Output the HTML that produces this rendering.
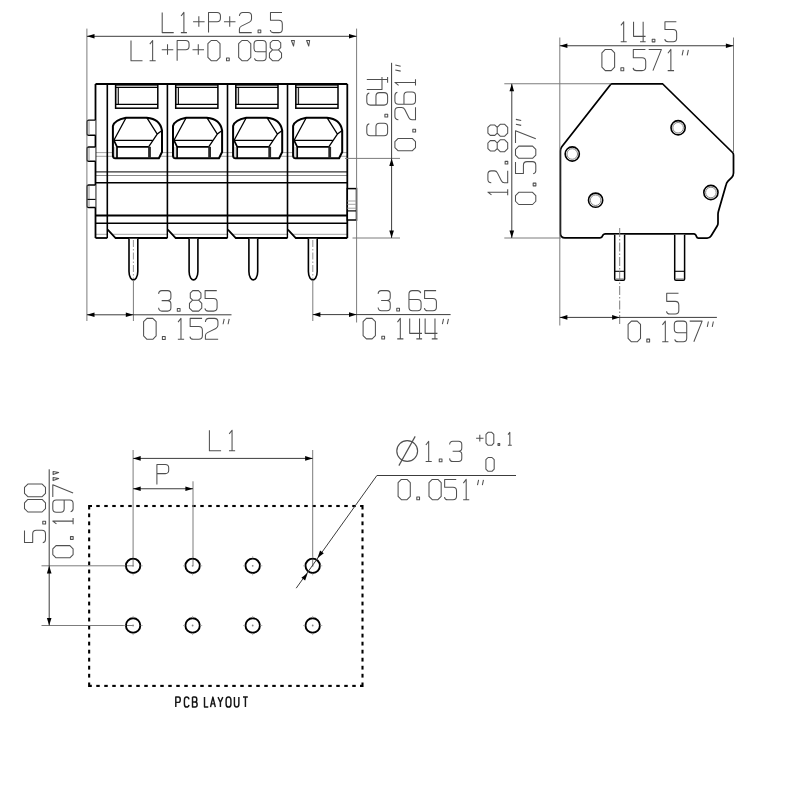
<!DOCTYPE html>
<html><head><meta charset="utf-8"><style>
html,body{margin:0;padding:0;background:#fff;width:800px;height:800px;overflow:hidden}
svg{display:block}
</style></head><body>
<svg width="800" height="800" viewBox="0 0 800 800">
<rect width="800" height="800" fill="#fff"/>
<line x1="95.5" y1="152.6" x2="347.3" y2="152.6" stroke="#9a9a9a" stroke-width="0.9" />
<line x1="95.5" y1="156.3" x2="347.3" y2="156.3" stroke="#9a9a9a" stroke-width="0.9" />
<line x1="95.5" y1="171.9" x2="347.3" y2="171.9" stroke="#333" stroke-width="1.1" />
<line x1="95.5" y1="175.5" x2="347.3" y2="175.5" stroke="#8a8a8a" stroke-width="1.0" />
<line x1="95.5" y1="182.8" x2="347.3" y2="182.8" stroke="#000" stroke-width="1.5" />
<line x1="95.5" y1="215.6" x2="347.3" y2="215.6" stroke="#000" stroke-width="2.0" />
<line x1="95.5" y1="223.2" x2="347.3" y2="223.2" stroke="#000" stroke-width="1.5" />
<line x1="95.5" y1="234.3" x2="347.3" y2="234.3" stroke="#9a9a9a" stroke-width="0.9" />
<rect x="115.6" y="87.4" width="2.8" height="17" fill="#c8c8c8"/>
<rect x="115.6" y="84.9" width="42.2" height="23.3" fill="none" stroke="#000" stroke-width="1.5"/>
<line x1="115.6" y1="87.4" x2="157.8" y2="87.4" stroke="#000" stroke-width="1.1" />
<line x1="115.6" y1="104.4" x2="157.8" y2="104.4" stroke="#000" stroke-width="1.1" />
<line x1="118.39999999999999" y1="87.4" x2="118.39999999999999" y2="104.4" stroke="#000" stroke-width="0.9" />
<path d="M126.05,117.7 L146.80,117.7 Q160.20,118.9 162.00,130.5 L162.00,152 L158.90,158.2 L115.30,158.2 Q112.90,158.2 112.90,155.5 L112.90,126 Q114.10,120.2 126.05,117.7 Z" fill="#fff" stroke="#000" stroke-width="2.0"/>
<rect x="148.10" y="146.8" width="2.8" height="11.4" fill="#2a2a2a"/>
<path d="M126.05,117.7 L113.90,140.3 M146.80,117.7 L157.20,134.1 L162.00,130.5 M157.20,134.1 L148.60,146.8 M113.90,140.3 L152.40,140.3" fill="none" stroke="#000" stroke-width="1.3"/>
<path d="M113.90,140.3 L117.00,146.8 L117.00,158.2 M117.00,146.8 L148.60,146.8" fill="none" stroke="#000" stroke-width="1.7"/>
<line x1="114.80" y1="147" x2="114.80" y2="157.5" stroke="#aaa" stroke-width="0.8" />
<rect x="175.70000000000002" y="87.4" width="2.8" height="17" fill="#c8c8c8"/>
<rect x="175.70000000000002" y="84.9" width="42.2" height="23.3" fill="none" stroke="#000" stroke-width="1.5"/>
<line x1="175.70000000000002" y1="87.4" x2="217.9" y2="87.4" stroke="#000" stroke-width="1.1" />
<line x1="175.70000000000002" y1="104.4" x2="217.9" y2="104.4" stroke="#000" stroke-width="1.1" />
<line x1="178.50000000000003" y1="87.4" x2="178.50000000000003" y2="104.4" stroke="#000" stroke-width="0.9" />
<path d="M186.15,117.7 L206.90,117.7 Q220.30,118.9 222.10,130.5 L222.10,152 L219.00,158.2 L175.40,158.2 Q173.00,158.2 173.00,155.5 L173.00,126 Q174.20,120.2 186.15,117.7 Z" fill="#fff" stroke="#000" stroke-width="2.0"/>
<rect x="208.20" y="146.8" width="2.8" height="11.4" fill="#2a2a2a"/>
<path d="M186.15,117.7 L174.00,140.3 M206.90,117.7 L217.30,134.1 L222.10,130.5 M217.30,134.1 L208.70,146.8 M174.00,140.3 L212.50,140.3" fill="none" stroke="#000" stroke-width="1.3"/>
<path d="M174.00,140.3 L177.10,146.8 L177.10,158.2 M177.10,146.8 L208.70,146.8" fill="none" stroke="#000" stroke-width="1.7"/>
<line x1="174.90" y1="147" x2="174.90" y2="157.5" stroke="#aaa" stroke-width="0.8" />
<rect x="235.8" y="87.4" width="2.8" height="17" fill="#c8c8c8"/>
<rect x="235.8" y="84.9" width="42.2" height="23.3" fill="none" stroke="#000" stroke-width="1.5"/>
<line x1="235.8" y1="87.4" x2="278.0" y2="87.4" stroke="#000" stroke-width="1.1" />
<line x1="235.8" y1="104.4" x2="278.0" y2="104.4" stroke="#000" stroke-width="1.1" />
<line x1="238.60000000000002" y1="87.4" x2="238.60000000000002" y2="104.4" stroke="#000" stroke-width="0.9" />
<path d="M246.25,117.7 L267.00,117.7 Q280.40,118.9 282.20,130.5 L282.20,152 L279.10,158.2 L235.50,158.2 Q233.10,158.2 233.10,155.5 L233.10,126 Q234.30,120.2 246.25,117.7 Z" fill="#fff" stroke="#000" stroke-width="2.0"/>
<rect x="268.30" y="146.8" width="2.8" height="11.4" fill="#2a2a2a"/>
<path d="M246.25,117.7 L234.10,140.3 M267.00,117.7 L277.40,134.1 L282.20,130.5 M277.40,134.1 L268.80,146.8 M234.10,140.3 L272.60,140.3" fill="none" stroke="#000" stroke-width="1.3"/>
<path d="M234.10,140.3 L237.20,146.8 L237.20,158.2 M237.20,146.8 L268.80,146.8" fill="none" stroke="#000" stroke-width="1.7"/>
<line x1="235.00" y1="147" x2="235.00" y2="157.5" stroke="#aaa" stroke-width="0.8" />
<rect x="295.8" y="87.4" width="2.8" height="17" fill="#c8c8c8"/>
<rect x="295.8" y="84.9" width="42.2" height="23.3" fill="none" stroke="#000" stroke-width="1.5"/>
<line x1="295.8" y1="87.4" x2="338.0" y2="87.4" stroke="#000" stroke-width="1.1" />
<line x1="295.8" y1="104.4" x2="338.0" y2="104.4" stroke="#000" stroke-width="1.1" />
<line x1="298.6" y1="87.4" x2="298.6" y2="104.4" stroke="#000" stroke-width="0.9" />
<path d="M306.25,117.7 L327.00,117.7 Q340.40,118.9 342.20,130.5 L342.20,152 L339.10,158.2 L295.50,158.2 Q293.10,158.2 293.10,155.5 L293.10,126 Q294.30,120.2 306.25,117.7 Z" fill="#fff" stroke="#000" stroke-width="2.0"/>
<rect x="328.30" y="146.8" width="2.8" height="11.4" fill="#2a2a2a"/>
<path d="M306.25,117.7 L294.10,140.3 M327.00,117.7 L337.40,134.1 L342.20,130.5 M337.40,134.1 L328.80,146.8 M294.10,140.3 L332.60,140.3" fill="none" stroke="#000" stroke-width="1.3"/>
<path d="M294.10,140.3 L297.20,146.8 L297.20,158.2 M297.20,146.8 L328.80,146.8" fill="none" stroke="#000" stroke-width="1.7"/>
<line x1="295.00" y1="147" x2="295.00" y2="157.5" stroke="#aaa" stroke-width="0.8" />
<line x1="95.5" y1="84.0" x2="347.3" y2="84.0" stroke="#000" stroke-width="2.0" />
<line x1="95.5" y1="84.0" x2="95.5" y2="238.0" stroke="#000" stroke-width="1.8" />
<line x1="347.3" y1="84.0" x2="347.3" y2="238.0" stroke="#000" stroke-width="1.8" />
<line x1="107.3" y1="84.0" x2="107.3" y2="238.0" stroke="#000" stroke-width="1.6" />
<line x1="167.4" y1="84.0" x2="167.4" y2="238.0" stroke="#000" stroke-width="1.6" />
<line x1="227.5" y1="84.0" x2="227.5" y2="238.0" stroke="#000" stroke-width="1.6" />
<line x1="287.5" y1="84.0" x2="287.5" y2="238.0" stroke="#000" stroke-width="1.6" />
<line x1="95.5" y1="238.0" x2="107.3" y2="238.0" stroke="#000" stroke-width="1.8" />
<path d="M108.1,229.3 L108.1,239.2 L115.89999999999999,239.2 Z" fill="#fff"/>
<path d="M107.7,229.7 L115.6,238.0 L167.4,238.0" fill="none" stroke="#000" stroke-width="1.8"/>
<path d="M168.20000000000002,229.3 L168.20000000000002,239.2 L176.0,239.2 Z" fill="#fff"/>
<path d="M167.8,229.7 L175.70000000000002,238.0 L227.5,238.0" fill="none" stroke="#000" stroke-width="1.8"/>
<path d="M228.3,229.3 L228.3,239.2 L236.1,239.2 Z" fill="#fff"/>
<path d="M227.9,229.7 L235.8,238.0 L287.5,238.0" fill="none" stroke="#000" stroke-width="1.8"/>
<path d="M288.3,229.3 L288.3,239.2 L296.1,239.2 Z" fill="#fff"/>
<path d="M287.9,229.7 L295.8,238.0 L347.3,238.0" fill="none" stroke="#000" stroke-width="1.8"/>
<path d="M95.5,120.1 L88.8,120.1 Q87,120.1 87,121.89999999999999 L87,133.39999999999998 Q87,135.2 88.8,135.2 L95.5,135.2" fill="#fff" stroke="#000" stroke-width="1.4"/>
<rect x="87.8" y="121.1" width="2.2" height="13.099999999999994" fill="#c8c8c8"/>
<path d="M95.5,147.0 L88.8,147.0 Q87,147.0 87,148.8 L87,159.39999999999998 Q87,161.2 88.8,161.2 L95.5,161.2" fill="#fff" stroke="#000" stroke-width="1.4"/>
<rect x="87.8" y="148.0" width="2.2" height="12.199999999999989" fill="#c8c8c8"/>
<path d="M95.5,185.0 L88.8,185.0 Q87,185.0 87,186.8 L87,205.7 Q87,207.5 88.8,207.5 L95.5,207.5" fill="#fff" stroke="#000" stroke-width="1.4"/>
<rect x="87.8" y="186.0" width="2.2" height="20.5" fill="#c8c8c8"/>
<line x1="87" y1="199.4" x2="95.5" y2="199.4" stroke="#000" stroke-width="1.1" />
<rect x="347.3" y="188.6" width="9.2" height="31.4" fill="#fff" stroke="#000" stroke-width="1.5"/>
<line x1="347.3" y1="201" x2="356.5" y2="201" stroke="#9a9a9a" stroke-width="0.9" />
<line x1="347.3" y1="204.3" x2="356.5" y2="204.3" stroke="#9a9a9a" stroke-width="0.9" />
<line x1="347.3" y1="208.2" x2="356.5" y2="208.2" stroke="#9a9a9a" stroke-width="0.9" />
<line x1="347.3" y1="210.9" x2="356.5" y2="210.9" stroke="#000" stroke-width="1.2" />
<path d="M129.00,238.8 L129.00,271.5 Q129.00,275.5 130.60,278 Q133.40,281.8 136.20,278 Q137.80,275.5 137.80,271.5 L137.80,238.8" fill="#fff" stroke="#000" stroke-width="1.6"/>
<path d="M189.10,238.8 L189.10,271.5 Q189.10,275.5 190.70,278 Q193.50,281.8 196.30,278 Q197.90,275.5 197.90,271.5 L197.90,238.8" fill="#fff" stroke="#000" stroke-width="1.6"/>
<path d="M248.90,238.8 L248.90,271.5 Q248.90,275.5 250.50,278 Q253.30,281.8 256.10,278 Q257.70,275.5 257.70,271.5 L257.70,238.8" fill="#fff" stroke="#000" stroke-width="1.6"/>
<path d="M308.40,238.8 L308.40,271.5 Q308.40,275.5 310.00,278 Q312.80,281.8 315.60,278 Q317.20,275.5 317.20,271.5 L317.20,238.8" fill="#fff" stroke="#000" stroke-width="1.6"/>
<line x1="133.4" y1="240" x2="133.4" y2="279" stroke="#888" stroke-width="0.9" stroke-dasharray="7 2 1.5 2"/>
<line x1="312.8" y1="240" x2="312.8" y2="279" stroke="#888" stroke-width="0.9" stroke-dasharray="7 2 1.5 2"/>
<line x1="86.9" y1="28.6" x2="86.9" y2="321" stroke="#7c7c7c" stroke-width="1.0" />
<line x1="356.6" y1="28.6" x2="356.6" y2="322.5" stroke="#7c7c7c" stroke-width="1.0" />
<line x1="86.9" y1="36.3" x2="356.6" y2="36.3" stroke="#3c3c3c" stroke-width="1.0" />
<path d="M86.90,36.30 L94.50,34.00 L94.50,38.60 Z" fill="#000"/>
<path d="M356.60,36.30 L349.00,38.60 L349.00,34.00 Z" fill="#000"/>
<g fill="none" stroke="#505050" stroke-width="1.05" stroke-linejoin="round" stroke-linecap="butt"><path transform="translate(162.20,12.40) scale(1.0100,1.0100)" d="M0,0 V20 H11.4" vector-effect="non-scaling-stroke"/><path transform="translate(177.64,12.40) scale(1.0100,1.0100)" d="M3.4,3.6 L6.2,0 V20 M3.2,20 H9.2" vector-effect="non-scaling-stroke"/><path transform="translate(193.08,12.40) scale(1.0100,1.0100)" d="M0,9.2 H11.4 M5.7,3.8 V14.2" vector-effect="non-scaling-stroke"/><path transform="translate(208.52,12.40) scale(1.0100,1.0100)" d="M0,20 V0 H8.4 Q11.8,0 11.8,3.4 V5.8 Q11.8,9.2 8.4,9.2 H0" vector-effect="non-scaling-stroke"/><path transform="translate(223.96,12.40) scale(1.0100,1.0100)" d="M0,9.2 H11.4 M5.7,3.8 V14.2" vector-effect="non-scaling-stroke"/><path transform="translate(239.40,12.40) scale(1.0100,1.0100)" d="M0,3.4 Q0.3,0 3.4,0 H8.6 Q12,0 12,3.4 V6.6 Q12,8.6 10,9.6 L2,13.6 Q0,14.6 0,16.6 V20 H12.2" vector-effect="non-scaling-stroke"/><path transform="translate(254.84,12.40) scale(1.0100,1.0100)" d="M3.2,17.4 H5.9 V20.1 H3.2 Z" vector-effect="non-scaling-stroke"/><path transform="translate(270.28,12.40) scale(1.0100,1.0100)" d="M11.6,0 H0.2 V7.8 H8.4 Q11.9,7.8 11.9,11.4 V16.6 Q11.9,20 8.4,20 H3.2 Q0.4,20 0,17.4" vector-effect="non-scaling-stroke"/></g>
<g fill="none" stroke="#505050" stroke-width="1.05" stroke-linejoin="round" stroke-linecap="butt"><path transform="translate(131.00,40.50) scale(1.0100,1.0100)" d="M0,0 V20 H11.4" vector-effect="non-scaling-stroke"/><path transform="translate(146.38,40.50) scale(1.0100,1.0100)" d="M3.4,3.6 L6.2,0 V20 M3.2,20 H9.2" vector-effect="non-scaling-stroke"/><path transform="translate(161.76,40.50) scale(1.0100,1.0100)" d="M0,9.2 H11.4 M5.7,3.8 V14.2" vector-effect="non-scaling-stroke"/><path transform="translate(177.14,40.50) scale(1.0100,1.0100)" d="M0,20 V0 H8.4 Q11.8,0 11.8,3.4 V5.8 Q11.8,9.2 8.4,9.2 H0" vector-effect="non-scaling-stroke"/><path transform="translate(192.52,40.50) scale(1.0100,1.0100)" d="M0,9.2 H11.4 M5.7,3.8 V14.2" vector-effect="non-scaling-stroke"/><path transform="translate(207.90,40.50) scale(1.0100,1.0100)" d="M3.2,0 H8.8 L12,3.2 V16.8 L8.8,20 H3.2 L0,16.8 V3.2 Z" vector-effect="non-scaling-stroke"/><path transform="translate(223.28,40.50) scale(1.0100,1.0100)" d="M3.2,17.4 H5.9 V20.1 H3.2 Z" vector-effect="non-scaling-stroke"/><path transform="translate(238.66,40.50) scale(1.0100,1.0100)" d="M3.2,0 H8.8 L12,3.2 V16.8 L8.8,20 H3.2 L0,16.8 V3.2 Z" vector-effect="non-scaling-stroke"/><path transform="translate(254.04,40.50) scale(1.0100,1.0100)" d="M0.4,17.6 Q1,20 3.6,20 H8.6 Q12,20 12,16.6 V3.4 Q12,0 8.6,0 H3.4 Q0,0 0,3.4 V7.8 Q0,11.2 3.4,11.2 H12" vector-effect="non-scaling-stroke"/><path transform="translate(269.42,40.50) scale(1.0100,1.0100)" d="M3.2,0 H8.8 L11.2,2.4 V7 L8.8,9.4 H3.2 L0.8,7 V2.4 Z M3,9.4 H9 L12,12.4 V17 L9,20 H3 L0,17 V12.4 Z" vector-effect="non-scaling-stroke"/></g>
<g fill="none" stroke="#505050" stroke-width="1.05" stroke-linejoin="round" stroke-linecap="butt"><path transform="translate(291.20,40.20) scale(1.0100,1.0100)" d="M0.2,0.3 L3.2,0.3 L2.3,5.8 Z" vector-effect="non-scaling-stroke"/></g>
<g fill="none" stroke="#505050" stroke-width="1.05" stroke-linejoin="round" stroke-linecap="butt"><path transform="translate(306.40,40.20) scale(1.0100,1.0100)" d="M0.2,0.3 L3.2,0.3 L2.3,5.8 Z" vector-effect="non-scaling-stroke"/></g>
<line x1="133.4" y1="280" x2="133.4" y2="321" stroke="#7c7c7c" stroke-width="1.0" />
<line x1="86.9" y1="314.8" x2="231.5" y2="314.8" stroke="#3c3c3c" stroke-width="1.0" />
<path d="M86.90,314.80 L94.50,312.50 L94.50,317.10 Z" fill="#000"/>
<path d="M133.40,314.80 L125.80,317.10 L125.80,312.50 Z" fill="#000"/>
<g fill="none" stroke="#505050" stroke-width="1.05" stroke-linejoin="round" stroke-linecap="butt"><path transform="translate(158.60,290.60) scale(1.0250,1.0250)" d="M0,3.2 Q0.3,0 3.2,0 H8.8 Q12,0 12,3.2 V6.6 Q12,9.8 8.8,9.8 H3 M8.8,9.8 Q12,9.8 12,13 V16.8 Q12,20 8.8,20 H3.2 Q0.3,20 0,16.8" vector-effect="non-scaling-stroke"/><path transform="translate(174.03,290.60) scale(1.0250,1.0250)" d="M3.2,17.4 H5.9 V20.1 H3.2 Z" vector-effect="non-scaling-stroke"/><path transform="translate(189.46,290.60) scale(1.0250,1.0250)" d="M3.2,0 H8.8 L11.2,2.4 V7 L8.8,9.4 H3.2 L0.8,7 V2.4 Z M3,9.4 H9 L12,12.4 V17 L9,20 H3 L0,17 V12.4 Z" vector-effect="non-scaling-stroke"/><path transform="translate(204.89,290.60) scale(1.0250,1.0250)" d="M11.6,0 H0.2 V7.8 H8.4 Q11.9,7.8 11.9,11.4 V16.6 Q11.9,20 8.4,20 H3.2 Q0.4,20 0,17.4" vector-effect="non-scaling-stroke"/></g>
<g fill="none" stroke="#505050" stroke-width="1.05" stroke-linejoin="round" stroke-linecap="butt"><path transform="translate(143.60,318.40) scale(1.0450,1.0450)" d="M3.2,0 H8.8 L12,3.2 V16.8 L8.8,20 H3.2 L0,16.8 V3.2 Z" vector-effect="non-scaling-stroke"/><path transform="translate(159.05,318.40) scale(1.0450,1.0450)" d="M3.2,17.4 H5.9 V20.1 H3.2 Z" vector-effect="non-scaling-stroke"/><path transform="translate(174.50,318.40) scale(1.0450,1.0450)" d="M3.4,3.6 L6.2,0 V20 M3.2,20 H9.2" vector-effect="non-scaling-stroke"/><path transform="translate(189.95,318.40) scale(1.0450,1.0450)" d="M11.6,0 H0.2 V7.8 H8.4 Q11.9,7.8 11.9,11.4 V16.6 Q11.9,20 8.4,20 H3.2 Q0.4,20 0,17.4" vector-effect="non-scaling-stroke"/><path transform="translate(205.40,318.40) scale(1.0450,1.0450)" d="M0,3.4 Q0.3,0 3.4,0 H8.6 Q12,0 12,3.4 V6.6 Q12,8.6 10,9.6 L2,13.6 Q0,14.6 0,16.6 V20 H12.2" vector-effect="non-scaling-stroke"/><path transform="translate(220.85,318.40) scale(1.0450,1.0450)" d="M3.2,0.4 L2.1,5.6 M8,0.4 L6.9,5.6" vector-effect="non-scaling-stroke"/></g>
<line x1="312.8" y1="280" x2="312.8" y2="321" stroke="#7c7c7c" stroke-width="1.0" />
<line x1="312.8" y1="314.6" x2="450.6" y2="314.6" stroke="#3c3c3c" stroke-width="1.0" />
<path d="M312.80,314.60 L320.40,312.30 L320.40,316.90 Z" fill="#000"/>
<path d="M356.60,314.60 L349.00,316.90 L349.00,312.30 Z" fill="#000"/>
<g fill="none" stroke="#505050" stroke-width="1.05" stroke-linejoin="round" stroke-linecap="butt"><path transform="translate(378.10,290.60) scale(1.0100,1.0100)" d="M0,3.2 Q0.3,0 3.2,0 H8.8 Q12,0 12,3.2 V6.6 Q12,9.8 8.8,9.8 H3 M8.8,9.8 Q12,9.8 12,13 V16.8 Q12,20 8.8,20 H3.2 Q0.3,20 0,16.8" vector-effect="non-scaling-stroke"/><path transform="translate(393.53,290.60) scale(1.0100,1.0100)" d="M3.2,17.4 H5.9 V20.1 H3.2 Z" vector-effect="non-scaling-stroke"/><path transform="translate(408.96,290.60) scale(1.0100,1.0100)" d="M11.6,2.4 Q11,0 8.4,0 H3.4 Q0,0 0,3.4 V16.6 Q0,20 3.4,20 H8.6 Q12,20 12,16.6 V12.2 Q12,8.8 8.6,8.8 H0" vector-effect="non-scaling-stroke"/><path transform="translate(424.39,290.60) scale(1.0100,1.0100)" d="M11.6,0 H0.2 V7.8 H8.4 Q11.9,7.8 11.9,11.4 V16.6 Q11.9,20 8.4,20 H3.2 Q0.4,20 0,17.4" vector-effect="non-scaling-stroke"/></g>
<g fill="none" stroke="#505050" stroke-width="1.05" stroke-linejoin="round" stroke-linecap="butt"><path transform="translate(363.10,318.40) scale(1.0250,1.0250)" d="M3.2,0 H8.8 L12,3.2 V16.8 L8.8,20 H3.2 L0,16.8 V3.2 Z" vector-effect="non-scaling-stroke"/><path transform="translate(378.53,318.40) scale(1.0250,1.0250)" d="M3.2,17.4 H5.9 V20.1 H3.2 Z" vector-effect="non-scaling-stroke"/><path transform="translate(393.96,318.40) scale(1.0250,1.0250)" d="M3.4,3.6 L6.2,0 V20 M3.2,20 H9.2" vector-effect="non-scaling-stroke"/><path transform="translate(409.39,318.40) scale(1.0250,1.0250)" d="M0.3,0 V14.6 H12.3 M9.9,0 V20 M6.8,20 H12.4" vector-effect="non-scaling-stroke"/><path transform="translate(424.82,318.40) scale(1.0250,1.0250)" d="M0.3,0 V14.6 H12.3 M9.9,0 V20 M6.8,20 H12.4" vector-effect="non-scaling-stroke"/><path transform="translate(440.25,318.40) scale(1.0250,1.0250)" d="M3.2,0.4 L2.1,5.6 M8,0.4 L6.9,5.6" vector-effect="non-scaling-stroke"/></g>
<line x1="345" y1="158.4" x2="400" y2="158.4" stroke="#7c7c7c" stroke-width="1.0" />
<line x1="352.5" y1="238.0" x2="400" y2="238.0" stroke="#7c7c7c" stroke-width="1.0" />
<line x1="391.6" y1="62.8" x2="391.6" y2="238.0" stroke="#3c3c3c" stroke-width="1.0" />
<path d="M391.60,158.40 L393.90,166.00 L389.30,166.00 Z" fill="#000"/>
<path d="M391.60,238.00 L389.30,230.40 L393.90,230.40 Z" fill="#000"/>
<g fill="none" stroke="#505050" stroke-width="1.05" stroke-linejoin="round" stroke-linecap="butt"><path transform="translate(366.80,135.70) rotate(-90) scale(1.0400,1.0400)" d="M11.6,2.4 Q11,0 8.4,0 H3.4 Q0,0 0,3.4 V16.6 Q0,20 3.4,20 H8.6 Q12,20 12,16.6 V12.2 Q12,8.8 8.6,8.8 H0" vector-effect="non-scaling-stroke"/><path transform="translate(366.80,120.40) rotate(-90) scale(1.0400,1.0400)" d="M3.2,17.4 H5.9 V20.1 H3.2 Z" vector-effect="non-scaling-stroke"/><path transform="translate(366.80,105.10) rotate(-90) scale(1.0400,1.0400)" d="M11.6,2.4 Q11,0 8.4,0 H3.4 Q0,0 0,3.4 V16.6 Q0,20 3.4,20 H8.6 Q12,20 12,16.6 V12.2 Q12,8.8 8.6,8.8 H0" vector-effect="non-scaling-stroke"/><path transform="translate(366.80,89.80) rotate(-90) scale(1.0400,1.0400)" d="M0.3,0 V14.6 H12.3 M9.9,0 V20 M6.8,20 H12.4" vector-effect="non-scaling-stroke"/></g>
<g fill="none" stroke="#505050" stroke-width="1.05" stroke-linejoin="round" stroke-linecap="butt"><path transform="translate(394.90,150.80) rotate(-90) scale(1.0300,1.0300)" d="M3.2,0 H8.8 L12,3.2 V16.8 L8.8,20 H3.2 L0,16.8 V3.2 Z" vector-effect="non-scaling-stroke"/><path transform="translate(394.90,135.30) rotate(-90) scale(1.0300,1.0300)" d="M3.2,17.4 H5.9 V20.1 H3.2 Z" vector-effect="non-scaling-stroke"/><path transform="translate(394.90,119.80) rotate(-90) scale(1.0300,1.0300)" d="M0,3.4 Q0.3,0 3.4,0 H8.6 Q12,0 12,3.4 V6.6 Q12,8.6 10,9.6 L2,13.6 Q0,14.6 0,16.6 V20 H12.2" vector-effect="non-scaling-stroke"/><path transform="translate(394.90,104.30) rotate(-90) scale(1.0300,1.0300)" d="M11.6,2.4 Q11,0 8.4,0 H3.4 Q0,0 0,3.4 V16.6 Q0,20 3.4,20 H8.6 Q12,20 12,16.6 V12.2 Q12,8.8 8.6,8.8 H0" vector-effect="non-scaling-stroke"/><path transform="translate(394.90,88.80) rotate(-90) scale(1.0300,1.0300)" d="M3.4,3.6 L6.2,0 V20 M3.2,20 H9.2" vector-effect="non-scaling-stroke"/><path transform="translate(394.90,73.30) rotate(-90) scale(1.0300,1.0300)" d="M3.2,0.4 L2.1,5.6 M8,0.4 L6.9,5.6" vector-effect="non-scaling-stroke"/></g>
<path d="M611.9,83.75 L662.5,83.75 L732.75,152.75 Q733.5,153.6 733.5,155.2 L733.5,173.1 Q733.5,175.4 731.8,177.4 L728,181.2 Q726.5,182.8 726,185 L718.4,211.5 Q718,213 718,214.5 L718,223 Q718,224.5 717.3,225.8 L711.2,235.8 Q709.8,238.1 707.2,238.1 L698.4,238.1 Q697,238.1 696.5,236.6 Q695.8,233.75 693.8,233.75 L605.5,233.75 Q603.2,233.75 602.6,235.8 Q602,237.8 600,237.8 L565,237.8 Q560.4,237.8 560.4,233.2 L560.4,151 Q560.4,148.6 561.8,146.8 L609.8,85.6 Q610.6,83.75 611.9,83.75 Z" fill="#fff" stroke="#000" stroke-width="1.75"/>
<circle cx="572.25" cy="154.0" r="7.1" fill="none" stroke="#000" stroke-width="1.6"/>
<circle cx="572.25" cy="154.0" r="5.3" fill="none" stroke="#777" stroke-width="0.9"/>
<circle cx="678.1" cy="127.75" r="7.1" fill="none" stroke="#000" stroke-width="1.6"/>
<circle cx="678.1" cy="127.75" r="5.3" fill="none" stroke="#777" stroke-width="0.9"/>
<circle cx="595.6" cy="200.2" r="7.1" fill="none" stroke="#000" stroke-width="1.6"/>
<circle cx="595.6" cy="200.2" r="5.3" fill="none" stroke="#777" stroke-width="0.9"/>
<circle cx="710.9" cy="192.5" r="7.1" fill="none" stroke="#000" stroke-width="1.6"/>
<circle cx="710.9" cy="192.5" r="5.3" fill="none" stroke="#777" stroke-width="0.9"/>
<path d="M614.7,234.8 L614.7,279 Q614.7,280.3 616.0,280.3 L623.3000000000001,280.3 Q624.6,280.3 624.6,279 L624.6,234.8" fill="#fff" stroke="#000" stroke-width="1.5"/>
<line x1="614.7" y1="271.3" x2="624.6" y2="271.3" stroke="#000" stroke-width="1.1" />
<line x1="615.2" y1="278.6" x2="624.1" y2="278.6" stroke="#999" stroke-width="0.8" />
<path d="M674.7,234.8 L674.7,279 Q674.7,280.3 676.0,280.3 L683.3000000000001,280.3 Q684.6,280.3 684.6,279 L684.6,234.8" fill="#fff" stroke="#000" stroke-width="1.5"/>
<line x1="674.7" y1="271.3" x2="684.6" y2="271.3" stroke="#000" stroke-width="1.1" />
<line x1="675.2" y1="278.6" x2="684.1" y2="278.6" stroke="#999" stroke-width="0.8" />
<line x1="619.7" y1="228" x2="619.7" y2="325.5" stroke="#7c7c7c" stroke-width="1.0" stroke-dasharray="9 2 1.5 2"/>
<line x1="559.8" y1="37.5" x2="559.8" y2="325.5" stroke="#7c7c7c" stroke-width="1.0" />
<line x1="733.5" y1="37.5" x2="733.5" y2="152" stroke="#7c7c7c" stroke-width="1.0" />
<line x1="559.8" y1="45.75" x2="733.5" y2="45.75" stroke="#3c3c3c" stroke-width="1.0" />
<path d="M559.80,45.75 L567.40,43.45 L567.40,48.05 Z" fill="#000"/>
<path d="M733.50,45.75 L725.90,48.05 L725.90,43.45 Z" fill="#000"/>
<g fill="none" stroke="#505050" stroke-width="1.05" stroke-linejoin="round" stroke-linecap="butt"><path transform="translate(617.50,21.75) scale(1.0000,1.0000)" d="M3.4,3.6 L6.2,0 V20 M3.2,20 H9.2" vector-effect="non-scaling-stroke"/><path transform="translate(633.25,21.75) scale(1.0000,1.0000)" d="M0.3,0 V14.6 H12.3 M9.9,0 V20 M6.8,20 H12.4" vector-effect="non-scaling-stroke"/><path transform="translate(649.00,21.75) scale(1.0000,1.0000)" d="M3.2,17.4 H5.9 V20.1 H3.2 Z" vector-effect="non-scaling-stroke"/><path transform="translate(664.75,21.75) scale(1.0000,1.0000)" d="M11.6,0 H0.2 V7.8 H8.4 Q11.9,7.8 11.9,11.4 V16.6 Q11.9,20 8.4,20 H3.2 Q0.4,20 0,17.4" vector-effect="non-scaling-stroke"/></g>
<g fill="none" stroke="#505050" stroke-width="1.05" stroke-linejoin="round" stroke-linecap="butt"><path transform="translate(601.90,49.40) scale(1.0600,1.0600)" d="M3.2,0 H8.8 L12,3.2 V16.8 L8.8,20 H3.2 L0,16.8 V3.2 Z" vector-effect="non-scaling-stroke"/><path transform="translate(617.50,49.40) scale(1.0600,1.0600)" d="M3.2,17.4 H5.9 V20.1 H3.2 Z" vector-effect="non-scaling-stroke"/><path transform="translate(633.10,49.40) scale(1.0600,1.0600)" d="M11.6,0 H0.2 V7.8 H8.4 Q11.9,7.8 11.9,11.4 V16.6 Q11.9,20 8.4,20 H3.2 Q0.4,20 0,17.4" vector-effect="non-scaling-stroke"/><path transform="translate(648.70,49.40) scale(1.0600,1.0600)" d="M0,0 H12 L4,20" vector-effect="non-scaling-stroke"/><path transform="translate(664.30,49.40) scale(1.0600,1.0600)" d="M3.4,3.6 L6.2,0 V20 M3.2,20 H9.2" vector-effect="non-scaling-stroke"/><path transform="translate(679.90,49.40) scale(1.0600,1.0600)" d="M3.2,0.4 L2.1,5.6 M8,0.4 L6.9,5.6" vector-effect="non-scaling-stroke"/></g>
<line x1="504.3" y1="83.75" x2="611" y2="83.75" stroke="#7c7c7c" stroke-width="1.0" />
<line x1="504.3" y1="238.0" x2="561" y2="238.0" stroke="#7c7c7c" stroke-width="1.0" />
<line x1="511.8" y1="83.75" x2="511.8" y2="238.0" stroke="#3c3c3c" stroke-width="1.0" />
<path d="M511.80,83.75 L514.10,91.35 L509.50,91.35 Z" fill="#000"/>
<path d="M511.80,238.00 L509.50,230.40 L514.10,230.40 Z" fill="#000"/>
<g fill="none" stroke="#505050" stroke-width="1.05" stroke-linejoin="round" stroke-linecap="butt"><path transform="translate(487.90,198.30) rotate(-90) scale(0.9900,0.9900)" d="M3.4,3.6 L6.2,0 V20 M3.2,20 H9.2" vector-effect="non-scaling-stroke"/><path transform="translate(487.90,182.77) rotate(-90) scale(0.9900,0.9900)" d="M0,3.4 Q0.3,0 3.4,0 H8.6 Q12,0 12,3.4 V6.6 Q12,8.6 10,9.6 L2,13.6 Q0,14.6 0,16.6 V20 H12.2" vector-effect="non-scaling-stroke"/><path transform="translate(487.90,167.24) rotate(-90) scale(0.9900,0.9900)" d="M3.2,17.4 H5.9 V20.1 H3.2 Z" vector-effect="non-scaling-stroke"/><path transform="translate(487.90,151.71) rotate(-90) scale(0.9900,0.9900)" d="M3.2,0 H8.8 L11.2,2.4 V7 L8.8,9.4 H3.2 L0.8,7 V2.4 Z M3,9.4 H9 L12,12.4 V17 L9,20 H3 L0,17 V12.4 Z" vector-effect="non-scaling-stroke"/><path transform="translate(487.90,136.18) rotate(-90) scale(0.9900,0.9900)" d="M3.2,0 H8.8 L11.2,2.4 V7 L8.8,9.4 H3.2 L0.8,7 V2.4 Z M3,9.4 H9 L12,12.4 V17 L9,20 H3 L0,17 V12.4 Z" vector-effect="non-scaling-stroke"/></g>
<g fill="none" stroke="#505050" stroke-width="1.05" stroke-linejoin="round" stroke-linecap="butt"><path transform="translate(515.50,204.50) rotate(-90) scale(1.0150,1.0150)" d="M3.2,0 H8.8 L12,3.2 V16.8 L8.8,20 H3.2 L0,16.8 V3.2 Z" vector-effect="non-scaling-stroke"/><path transform="translate(515.50,189.10) rotate(-90) scale(1.0150,1.0150)" d="M3.2,17.4 H5.9 V20.1 H3.2 Z" vector-effect="non-scaling-stroke"/><path transform="translate(515.50,173.70) rotate(-90) scale(1.0150,1.0150)" d="M11.6,0 H0.2 V7.8 H8.4 Q11.9,7.8 11.9,11.4 V16.6 Q11.9,20 8.4,20 H3.2 Q0.4,20 0,17.4" vector-effect="non-scaling-stroke"/><path transform="translate(515.50,158.30) rotate(-90) scale(1.0150,1.0150)" d="M3.2,0 H8.8 L12,3.2 V16.8 L8.8,20 H3.2 L0,16.8 V3.2 Z" vector-effect="non-scaling-stroke"/><path transform="translate(515.50,142.90) rotate(-90) scale(1.0150,1.0150)" d="M0,0 H12 L4,20" vector-effect="non-scaling-stroke"/><path transform="translate(515.50,127.50) rotate(-90) scale(1.0150,1.0150)" d="M3.2,0.4 L2.1,5.6 M8,0.4 L6.9,5.6" vector-effect="non-scaling-stroke"/></g>
<line x1="559.8" y1="317.4" x2="716.9" y2="317.4" stroke="#3c3c3c" stroke-width="1.0" />
<path d="M559.80,317.40 L567.40,315.10 L567.40,319.70 Z" fill="#000"/>
<path d="M619.70,317.40 L612.10,319.70 L612.10,315.10 Z" fill="#000"/>
<g fill="none" stroke="#505050" stroke-width="1.05" stroke-linejoin="round" stroke-linecap="butt"><path transform="translate(666.50,293.30) scale(1.0350,1.0350)" d="M11.6,0 H0.2 V7.8 H8.4 Q11.9,7.8 11.9,11.4 V16.6 Q11.9,20 8.4,20 H3.2 Q0.4,20 0,17.4" vector-effect="non-scaling-stroke"/></g>
<g fill="none" stroke="#505050" stroke-width="1.05" stroke-linejoin="round" stroke-linecap="butt"><path transform="translate(628.10,321.10) scale(1.0350,1.0350)" d="M3.2,0 H8.8 L12,3.2 V16.8 L8.8,20 H3.2 L0,16.8 V3.2 Z" vector-effect="non-scaling-stroke"/><path transform="translate(643.50,321.10) scale(1.0350,1.0350)" d="M3.2,17.4 H5.9 V20.1 H3.2 Z" vector-effect="non-scaling-stroke"/><path transform="translate(658.90,321.10) scale(1.0350,1.0350)" d="M3.4,3.6 L6.2,0 V20 M3.2,20 H9.2" vector-effect="non-scaling-stroke"/><path transform="translate(674.30,321.10) scale(1.0350,1.0350)" d="M0.4,17.6 Q1,20 3.6,20 H8.6 Q12,20 12,16.6 V3.4 Q12,0 8.6,0 H3.4 Q0,0 0,3.4 V7.8 Q0,11.2 3.4,11.2 H12" vector-effect="non-scaling-stroke"/><path transform="translate(689.70,321.10) scale(1.0350,1.0350)" d="M0,0 H12 L4,20" vector-effect="non-scaling-stroke"/><path transform="translate(705.10,321.10) scale(1.0350,1.0350)" d="M3.2,0.4 L2.1,5.6 M8,0.4 L6.9,5.6" vector-effect="non-scaling-stroke"/></g>
<line x1="96.25" y1="506.0" x2="99.75" y2="506.0" stroke="#000" stroke-width="2.1" />
<line x1="96.25" y1="685.9" x2="99.75" y2="685.9" stroke="#000" stroke-width="2.1" />
<line x1="104.25" y1="506.0" x2="107.75" y2="506.0" stroke="#000" stroke-width="2.1" />
<line x1="104.25" y1="685.9" x2="107.75" y2="685.9" stroke="#000" stroke-width="2.1" />
<line x1="112.25" y1="506.0" x2="115.75" y2="506.0" stroke="#000" stroke-width="2.1" />
<line x1="112.25" y1="685.9" x2="115.75" y2="685.9" stroke="#000" stroke-width="2.1" />
<line x1="120.25" y1="506.0" x2="123.75" y2="506.0" stroke="#000" stroke-width="2.1" />
<line x1="120.25" y1="685.9" x2="123.75" y2="685.9" stroke="#000" stroke-width="2.1" />
<line x1="128.25" y1="506.0" x2="131.75" y2="506.0" stroke="#000" stroke-width="2.1" />
<line x1="128.25" y1="685.9" x2="131.75" y2="685.9" stroke="#000" stroke-width="2.1" />
<line x1="136.25" y1="506.0" x2="139.75" y2="506.0" stroke="#000" stroke-width="2.1" />
<line x1="136.25" y1="685.9" x2="139.75" y2="685.9" stroke="#000" stroke-width="2.1" />
<line x1="144.25" y1="506.0" x2="147.75" y2="506.0" stroke="#000" stroke-width="2.1" />
<line x1="144.25" y1="685.9" x2="147.75" y2="685.9" stroke="#000" stroke-width="2.1" />
<line x1="152.25" y1="506.0" x2="155.75" y2="506.0" stroke="#000" stroke-width="2.1" />
<line x1="152.25" y1="685.9" x2="155.75" y2="685.9" stroke="#000" stroke-width="2.1" />
<line x1="160.25" y1="506.0" x2="163.75" y2="506.0" stroke="#000" stroke-width="2.1" />
<line x1="160.25" y1="685.9" x2="163.75" y2="685.9" stroke="#000" stroke-width="2.1" />
<line x1="168.25" y1="506.0" x2="171.75" y2="506.0" stroke="#000" stroke-width="2.1" />
<line x1="168.25" y1="685.9" x2="171.75" y2="685.9" stroke="#000" stroke-width="2.1" />
<line x1="176.25" y1="506.0" x2="179.75" y2="506.0" stroke="#000" stroke-width="2.1" />
<line x1="176.25" y1="685.9" x2="179.75" y2="685.9" stroke="#000" stroke-width="2.1" />
<line x1="184.25" y1="506.0" x2="187.75" y2="506.0" stroke="#000" stroke-width="2.1" />
<line x1="184.25" y1="685.9" x2="187.75" y2="685.9" stroke="#000" stroke-width="2.1" />
<line x1="192.25" y1="506.0" x2="195.75" y2="506.0" stroke="#000" stroke-width="2.1" />
<line x1="192.25" y1="685.9" x2="195.75" y2="685.9" stroke="#000" stroke-width="2.1" />
<line x1="200.25" y1="506.0" x2="203.75" y2="506.0" stroke="#000" stroke-width="2.1" />
<line x1="200.25" y1="685.9" x2="203.75" y2="685.9" stroke="#000" stroke-width="2.1" />
<line x1="208.25" y1="506.0" x2="211.75" y2="506.0" stroke="#000" stroke-width="2.1" />
<line x1="208.25" y1="685.9" x2="211.75" y2="685.9" stroke="#000" stroke-width="2.1" />
<line x1="216.25" y1="506.0" x2="219.75" y2="506.0" stroke="#000" stroke-width="2.1" />
<line x1="216.25" y1="685.9" x2="219.75" y2="685.9" stroke="#000" stroke-width="2.1" />
<line x1="224.25" y1="506.0" x2="227.75" y2="506.0" stroke="#000" stroke-width="2.1" />
<line x1="224.25" y1="685.9" x2="227.75" y2="685.9" stroke="#000" stroke-width="2.1" />
<line x1="232.25" y1="506.0" x2="235.75" y2="506.0" stroke="#000" stroke-width="2.1" />
<line x1="232.25" y1="685.9" x2="235.75" y2="685.9" stroke="#000" stroke-width="2.1" />
<line x1="240.25" y1="506.0" x2="243.75" y2="506.0" stroke="#000" stroke-width="2.1" />
<line x1="240.25" y1="685.9" x2="243.75" y2="685.9" stroke="#000" stroke-width="2.1" />
<line x1="248.25" y1="506.0" x2="251.75" y2="506.0" stroke="#000" stroke-width="2.1" />
<line x1="248.25" y1="685.9" x2="251.75" y2="685.9" stroke="#000" stroke-width="2.1" />
<line x1="256.25" y1="506.0" x2="259.75" y2="506.0" stroke="#000" stroke-width="2.1" />
<line x1="256.25" y1="685.9" x2="259.75" y2="685.9" stroke="#000" stroke-width="2.1" />
<line x1="264.25" y1="506.0" x2="267.75" y2="506.0" stroke="#000" stroke-width="2.1" />
<line x1="264.25" y1="685.9" x2="267.75" y2="685.9" stroke="#000" stroke-width="2.1" />
<line x1="272.25" y1="506.0" x2="275.75" y2="506.0" stroke="#000" stroke-width="2.1" />
<line x1="272.25" y1="685.9" x2="275.75" y2="685.9" stroke="#000" stroke-width="2.1" />
<line x1="280.25" y1="506.0" x2="283.75" y2="506.0" stroke="#000" stroke-width="2.1" />
<line x1="280.25" y1="685.9" x2="283.75" y2="685.9" stroke="#000" stroke-width="2.1" />
<line x1="288.25" y1="506.0" x2="291.75" y2="506.0" stroke="#000" stroke-width="2.1" />
<line x1="288.25" y1="685.9" x2="291.75" y2="685.9" stroke="#000" stroke-width="2.1" />
<line x1="296.25" y1="506.0" x2="299.75" y2="506.0" stroke="#000" stroke-width="2.1" />
<line x1="296.25" y1="685.9" x2="299.75" y2="685.9" stroke="#000" stroke-width="2.1" />
<line x1="304.25" y1="506.0" x2="307.75" y2="506.0" stroke="#000" stroke-width="2.1" />
<line x1="304.25" y1="685.9" x2="307.75" y2="685.9" stroke="#000" stroke-width="2.1" />
<line x1="312.25" y1="506.0" x2="315.75" y2="506.0" stroke="#000" stroke-width="2.1" />
<line x1="312.25" y1="685.9" x2="315.75" y2="685.9" stroke="#000" stroke-width="2.1" />
<line x1="320.25" y1="506.0" x2="323.75" y2="506.0" stroke="#000" stroke-width="2.1" />
<line x1="320.25" y1="685.9" x2="323.75" y2="685.9" stroke="#000" stroke-width="2.1" />
<line x1="328.25" y1="506.0" x2="331.75" y2="506.0" stroke="#000" stroke-width="2.1" />
<line x1="328.25" y1="685.9" x2="331.75" y2="685.9" stroke="#000" stroke-width="2.1" />
<line x1="336.25" y1="506.0" x2="339.75" y2="506.0" stroke="#000" stroke-width="2.1" />
<line x1="336.25" y1="685.9" x2="339.75" y2="685.9" stroke="#000" stroke-width="2.1" />
<line x1="344.25" y1="506.0" x2="347.75" y2="506.0" stroke="#000" stroke-width="2.1" />
<line x1="344.25" y1="685.9" x2="347.75" y2="685.9" stroke="#000" stroke-width="2.1" />
<line x1="352.25" y1="506.0" x2="355.75" y2="506.0" stroke="#000" stroke-width="2.1" />
<line x1="352.25" y1="685.9" x2="355.75" y2="685.9" stroke="#000" stroke-width="2.1" />
<line x1="89.15" y1="513.40" x2="89.15" y2="517.20" stroke="#000" stroke-width="2.1" />
<line x1="362.5" y1="513.40" x2="362.5" y2="517.20" stroke="#000" stroke-width="2.1" />
<line x1="89.15" y1="521.42" x2="89.15" y2="525.22" stroke="#000" stroke-width="2.1" />
<line x1="362.5" y1="521.42" x2="362.5" y2="525.22" stroke="#000" stroke-width="2.1" />
<line x1="89.15" y1="529.44" x2="89.15" y2="533.24" stroke="#000" stroke-width="2.1" />
<line x1="362.5" y1="529.44" x2="362.5" y2="533.24" stroke="#000" stroke-width="2.1" />
<line x1="89.15" y1="537.46" x2="89.15" y2="541.26" stroke="#000" stroke-width="2.1" />
<line x1="362.5" y1="537.46" x2="362.5" y2="541.26" stroke="#000" stroke-width="2.1" />
<line x1="89.15" y1="545.48" x2="89.15" y2="549.28" stroke="#000" stroke-width="2.1" />
<line x1="362.5" y1="545.48" x2="362.5" y2="549.28" stroke="#000" stroke-width="2.1" />
<line x1="89.15" y1="553.50" x2="89.15" y2="557.30" stroke="#000" stroke-width="2.1" />
<line x1="362.5" y1="553.50" x2="362.5" y2="557.30" stroke="#000" stroke-width="2.1" />
<line x1="89.15" y1="561.52" x2="89.15" y2="565.32" stroke="#000" stroke-width="2.1" />
<line x1="362.5" y1="561.52" x2="362.5" y2="565.32" stroke="#000" stroke-width="2.1" />
<line x1="89.15" y1="569.54" x2="89.15" y2="573.34" stroke="#000" stroke-width="2.1" />
<line x1="362.5" y1="569.54" x2="362.5" y2="573.34" stroke="#000" stroke-width="2.1" />
<line x1="89.15" y1="577.56" x2="89.15" y2="581.36" stroke="#000" stroke-width="2.1" />
<line x1="362.5" y1="577.56" x2="362.5" y2="581.36" stroke="#000" stroke-width="2.1" />
<line x1="89.15" y1="585.58" x2="89.15" y2="589.38" stroke="#000" stroke-width="2.1" />
<line x1="362.5" y1="585.58" x2="362.5" y2="589.38" stroke="#000" stroke-width="2.1" />
<line x1="89.15" y1="593.60" x2="89.15" y2="597.40" stroke="#000" stroke-width="2.1" />
<line x1="362.5" y1="593.60" x2="362.5" y2="597.40" stroke="#000" stroke-width="2.1" />
<line x1="89.15" y1="601.62" x2="89.15" y2="605.42" stroke="#000" stroke-width="2.1" />
<line x1="362.5" y1="601.62" x2="362.5" y2="605.42" stroke="#000" stroke-width="2.1" />
<line x1="89.15" y1="609.64" x2="89.15" y2="613.44" stroke="#000" stroke-width="2.1" />
<line x1="362.5" y1="609.64" x2="362.5" y2="613.44" stroke="#000" stroke-width="2.1" />
<line x1="89.15" y1="617.66" x2="89.15" y2="621.46" stroke="#000" stroke-width="2.1" />
<line x1="362.5" y1="617.66" x2="362.5" y2="621.46" stroke="#000" stroke-width="2.1" />
<line x1="89.15" y1="625.68" x2="89.15" y2="629.48" stroke="#000" stroke-width="2.1" />
<line x1="362.5" y1="625.68" x2="362.5" y2="629.48" stroke="#000" stroke-width="2.1" />
<line x1="89.15" y1="633.70" x2="89.15" y2="637.50" stroke="#000" stroke-width="2.1" />
<line x1="362.5" y1="633.70" x2="362.5" y2="637.50" stroke="#000" stroke-width="2.1" />
<line x1="89.15" y1="641.72" x2="89.15" y2="645.52" stroke="#000" stroke-width="2.1" />
<line x1="362.5" y1="641.72" x2="362.5" y2="645.52" stroke="#000" stroke-width="2.1" />
<line x1="89.15" y1="649.74" x2="89.15" y2="653.54" stroke="#000" stroke-width="2.1" />
<line x1="362.5" y1="649.74" x2="362.5" y2="653.54" stroke="#000" stroke-width="2.1" />
<line x1="89.15" y1="657.76" x2="89.15" y2="661.56" stroke="#000" stroke-width="2.1" />
<line x1="362.5" y1="657.76" x2="362.5" y2="661.56" stroke="#000" stroke-width="2.1" />
<line x1="89.15" y1="665.78" x2="89.15" y2="669.58" stroke="#000" stroke-width="2.1" />
<line x1="362.5" y1="665.78" x2="362.5" y2="669.58" stroke="#000" stroke-width="2.1" />
<line x1="89.15" y1="673.80" x2="89.15" y2="677.60" stroke="#000" stroke-width="2.1" />
<line x1="362.5" y1="673.80" x2="362.5" y2="677.60" stroke="#000" stroke-width="2.1" />
<path d="M89.15,509.6 L89.15,506 L92,506 M360.1,506 L362.5,506 L362.5,509.6 M89.15,682.5 L89.15,685.9 L91.8,685.9 M360,685.9 L362.5,685.9 L362.5,682.5" fill="none" stroke="#000" stroke-width="2.1"/>
<line x1="133.1" y1="450" x2="133.1" y2="565.8" stroke="#7c7c7c" stroke-width="1.0" />
<line x1="193.0" y1="481.3" x2="193.0" y2="565.8" stroke="#7c7c7c" stroke-width="1.0" />
<line x1="312.7" y1="450" x2="312.7" y2="565.8" stroke="#7c7c7c" stroke-width="1.0" />
<line x1="41.5" y1="565.8" x2="133.1" y2="565.8" stroke="#7c7c7c" stroke-width="1.0" />
<line x1="41.5" y1="625.5" x2="133.1" y2="625.5" stroke="#7c7c7c" stroke-width="1.0" />
<circle cx="133.1" cy="565.8" r="7.2" fill="none" stroke="#000" stroke-width="1.9"/>
<circle cx="133.1" cy="565.8" r="0.9" fill="#888"/>
<path d="M123.5,565.8 h2 M140.7,565.8 h2 M133.1,556.1999999999999 v2 M133.1,573.4 v2" stroke="#aaa" stroke-width="0.9"/>
<circle cx="192.6" cy="565.8" r="7.2" fill="none" stroke="#000" stroke-width="1.9"/>
<circle cx="192.6" cy="565.8" r="0.9" fill="#888"/>
<path d="M183.0,565.8 h2 M200.2,565.8 h2 M192.6,556.1999999999999 v2 M192.6,573.4 v2" stroke="#aaa" stroke-width="0.9"/>
<circle cx="252.7" cy="565.8" r="7.2" fill="none" stroke="#000" stroke-width="1.9"/>
<circle cx="252.7" cy="565.8" r="0.9" fill="#888"/>
<path d="M243.1,565.8 h2 M260.3,565.8 h2 M252.7,556.1999999999999 v2 M252.7,573.4 v2" stroke="#aaa" stroke-width="0.9"/>
<circle cx="312.7" cy="565.8" r="7.2" fill="none" stroke="#000" stroke-width="1.9"/>
<circle cx="312.7" cy="565.8" r="0.9" fill="#888"/>
<path d="M303.09999999999997,565.8 h2 M320.3,565.8 h2 M312.7,556.1999999999999 v2 M312.7,573.4 v2" stroke="#aaa" stroke-width="0.9"/>
<circle cx="133.1" cy="625.5" r="7.2" fill="none" stroke="#000" stroke-width="1.9"/>
<circle cx="133.1" cy="625.5" r="0.9" fill="#888"/>
<path d="M123.5,625.5 h2 M140.7,625.5 h2 M133.1,615.9 v2 M133.1,633.1 v2" stroke="#aaa" stroke-width="0.9"/>
<circle cx="192.6" cy="625.5" r="7.2" fill="none" stroke="#000" stroke-width="1.9"/>
<circle cx="192.6" cy="625.5" r="0.9" fill="#888"/>
<path d="M183.0,625.5 h2 M200.2,625.5 h2 M192.6,615.9 v2 M192.6,633.1 v2" stroke="#aaa" stroke-width="0.9"/>
<circle cx="252.7" cy="625.5" r="7.2" fill="none" stroke="#000" stroke-width="1.9"/>
<circle cx="252.7" cy="625.5" r="0.9" fill="#888"/>
<path d="M243.1,625.5 h2 M260.3,625.5 h2 M252.7,615.9 v2 M252.7,633.1 v2" stroke="#aaa" stroke-width="0.9"/>
<circle cx="312.7" cy="625.5" r="7.2" fill="none" stroke="#000" stroke-width="1.9"/>
<circle cx="312.7" cy="625.5" r="0.9" fill="#888"/>
<path d="M303.09999999999997,625.5 h2 M320.3,625.5 h2 M312.7,615.9 v2 M312.7,633.1 v2" stroke="#aaa" stroke-width="0.9"/>
<line x1="133.1" y1="458.4" x2="312.7" y2="458.4" stroke="#3c3c3c" stroke-width="1.0" />
<path d="M133.10,458.40 L140.70,456.10 L140.70,460.70 Z" fill="#000"/>
<path d="M312.70,458.40 L305.10,460.70 L305.10,456.10 Z" fill="#000"/>
<g fill="none" stroke="#505050" stroke-width="1.05" stroke-linejoin="round" stroke-linecap="butt"><path transform="translate(209.40,430.20) scale(1.0250,1.0250)" d="M0,0 V20 H11.4" vector-effect="non-scaling-stroke"/><path transform="translate(225.70,430.20) scale(1.0250,1.0250)" d="M3.4,3.6 L6.2,0 V20 M3.2,20 H9.2" vector-effect="non-scaling-stroke"/></g>
<line x1="133.1" y1="488.75" x2="193.0" y2="488.75" stroke="#3c3c3c" stroke-width="1.0" />
<path d="M133.10,488.75 L140.70,486.45 L140.70,491.05 Z" fill="#000"/>
<path d="M193.00,488.75 L185.40,491.05 L185.40,486.45 Z" fill="#000"/>
<g fill="none" stroke="#505050" stroke-width="1.05" stroke-linejoin="round" stroke-linecap="butt"><path transform="translate(156.90,464.40) scale(1.0000,1.0000)" d="M0,20 V0 H8.4 Q11.8,0 11.8,3.4 V5.8 Q11.8,9.2 8.4,9.2 H0" vector-effect="non-scaling-stroke"/></g>
<line x1="49.2" y1="469.3" x2="49.2" y2="625.5" stroke="#3c3c3c" stroke-width="1.0" />
<path d="M49.20,565.80 L51.50,573.40 L46.90,573.40 Z" fill="#000"/>
<path d="M49.20,625.50 L46.90,617.90 L51.50,617.90 Z" fill="#000"/>
<g fill="none" stroke="#505050" stroke-width="1.05" stroke-linejoin="round" stroke-linecap="butt"><path transform="translate(24.50,542.70) rotate(-90) scale(1.0500,1.0500)" d="M11.6,0 H0.2 V7.8 H8.4 Q11.9,7.8 11.9,11.4 V16.6 Q11.9,20 8.4,20 H3.2 Q0.4,20 0,17.4" vector-effect="non-scaling-stroke"/><path transform="translate(24.50,527.35) rotate(-90) scale(1.0500,1.0500)" d="M3.2,17.4 H5.9 V20.1 H3.2 Z" vector-effect="non-scaling-stroke"/><path transform="translate(24.50,512.00) rotate(-90) scale(1.0500,1.0500)" d="M3.2,0 H8.8 L12,3.2 V16.8 L8.8,20 H3.2 L0,16.8 V3.2 Z" vector-effect="non-scaling-stroke"/><path transform="translate(24.50,496.65) rotate(-90) scale(1.0500,1.0500)" d="M3.2,0 H8.8 L12,3.2 V16.8 L8.8,20 H3.2 L0,16.8 V3.2 Z" vector-effect="non-scaling-stroke"/></g>
<g fill="none" stroke="#505050" stroke-width="1.05" stroke-linejoin="round" stroke-linecap="butt"><path transform="translate(52.80,557.80) rotate(-90) scale(1.0150,1.0150)" d="M3.2,0 H8.8 L12,3.2 V16.8 L8.8,20 H3.2 L0,16.8 V3.2 Z" vector-effect="non-scaling-stroke"/><path transform="translate(52.80,542.60) rotate(-90) scale(1.0150,1.0150)" d="M3.2,17.4 H5.9 V20.1 H3.2 Z" vector-effect="non-scaling-stroke"/><path transform="translate(52.80,527.40) rotate(-90) scale(1.0150,1.0150)" d="M3.4,3.6 L6.2,0 V20 M3.2,20 H9.2" vector-effect="non-scaling-stroke"/><path transform="translate(52.80,512.20) rotate(-90) scale(1.0150,1.0150)" d="M0.4,17.6 Q1,20 3.6,20 H8.6 Q12,20 12,16.6 V3.4 Q12,0 8.6,0 H3.4 Q0,0 0,3.4 V7.8 Q0,11.2 3.4,11.2 H12" vector-effect="non-scaling-stroke"/><path transform="translate(52.80,497.00) rotate(-90) scale(1.0150,1.0150)" d="M0,0 H12 L4,20" vector-effect="non-scaling-stroke"/></g>
<g fill="none" stroke="#505050" stroke-width="1.05" stroke-linejoin="round" stroke-linecap="butt"><path transform="translate(52.80,480.80) rotate(-90) scale(1.0150,1.0150)" d="M0.2,0.3 L3.2,0.3 L2.3,5.8 Z" vector-effect="non-scaling-stroke"/></g>
<g fill="none" stroke="#505050" stroke-width="1.05" stroke-linejoin="round" stroke-linecap="butt"><path transform="translate(52.80,474.80) rotate(-90) scale(1.0150,1.0150)" d="M0.2,0.3 L3.2,0.3 L2.3,5.8 Z" vector-effect="non-scaling-stroke"/></g>
<path d="M516,475.5 L376.9,475.5 L296.2,588.2" fill="none" stroke="#3c3c3c" stroke-width="1.0"/>
<path d="M317.50,558.00 L320.05,550.48 L323.79,553.16 Z" fill="#000"/>
<path d="M307.70,573.00 L305.15,580.52 L301.41,577.84 Z" fill="#000"/>
<g fill="none" stroke="#505050" stroke-width="1.15"><circle cx="407.2" cy="451.0" r="10.4"/><line x1="415.2" y1="436.4" x2="398.9" y2="465.6"/></g>
<g fill="none" stroke="#505050" stroke-width="1.05" stroke-linejoin="round" stroke-linecap="butt"><path transform="translate(422.40,441.30) scale(1.0150,1.0150)" d="M3.4,3.6 L6.2,0 V20 M3.2,20 H9.2" vector-effect="non-scaling-stroke"/><path transform="translate(436.00,441.30) scale(1.0150,1.0150)" d="M3.2,17.4 H5.9 V20.1 H3.2 Z" vector-effect="non-scaling-stroke"/><path transform="translate(449.60,441.30) scale(1.0150,1.0150)" d="M0,3.2 Q0.3,0 3.2,0 H8.8 Q12,0 12,3.2 V6.6 Q12,9.8 8.8,9.8 H3 M8.8,9.8 Q12,9.8 12,13 V16.8 Q12,20 8.8,20 H3.2 Q0.3,20 0,16.8" vector-effect="non-scaling-stroke"/></g>
<g fill="none" stroke="#505050" stroke-width="1.05" stroke-linejoin="round" stroke-linecap="butt"><path transform="translate(476.10,432.30) scale(0.6500,0.6500)" d="M0,9.2 H11.4 M5.7,3.8 V14.2" vector-effect="non-scaling-stroke"/><path transform="translate(486.00,432.30) scale(0.6500,0.6500)" d="M3.2,0 H8.8 L12,3.2 V16.8 L8.8,20 H3.2 L0,16.8 V3.2 Z" vector-effect="non-scaling-stroke"/><path transform="translate(495.90,432.30) scale(0.6500,0.6500)" d="M3.2,17.4 H5.9 V20.1 H3.2 Z" vector-effect="non-scaling-stroke"/><path transform="translate(505.80,432.30) scale(0.6500,0.6500)" d="M3.4,3.6 L6.2,0 V20 M3.2,20 H9.2" vector-effect="non-scaling-stroke"/></g>
<g fill="none" stroke="#505050" stroke-width="1.05" stroke-linejoin="round" stroke-linecap="butt"><path transform="translate(485.90,457.50) scale(0.6900,0.6900)" d="M3.2,0 H8.8 L12,3.2 V16.8 L8.8,20 H3.2 L0,16.8 V3.2 Z" vector-effect="non-scaling-stroke"/></g>
<g fill="none" stroke="#505050" stroke-width="1.05" stroke-linejoin="round" stroke-linecap="butt"><path transform="translate(398.10,479.40) scale(1.0150,1.0150)" d="M3.2,0 H8.8 L12,3.2 V16.8 L8.8,20 H3.2 L0,16.8 V3.2 Z" vector-effect="non-scaling-stroke"/><path transform="translate(413.55,479.40) scale(1.0150,1.0150)" d="M3.2,17.4 H5.9 V20.1 H3.2 Z" vector-effect="non-scaling-stroke"/><path transform="translate(429.00,479.40) scale(1.0150,1.0150)" d="M3.2,0 H8.8 L12,3.2 V16.8 L8.8,20 H3.2 L0,16.8 V3.2 Z" vector-effect="non-scaling-stroke"/><path transform="translate(444.45,479.40) scale(1.0150,1.0150)" d="M11.6,0 H0.2 V7.8 H8.4 Q11.9,7.8 11.9,11.4 V16.6 Q11.9,20 8.4,20 H3.2 Q0.4,20 0,17.4" vector-effect="non-scaling-stroke"/><path transform="translate(459.90,479.40) scale(1.0150,1.0150)" d="M3.4,3.6 L6.2,0 V20 M3.2,20 H9.2" vector-effect="non-scaling-stroke"/><path transform="translate(475.35,479.40) scale(1.0150,1.0150)" d="M3.2,0.4 L2.1,5.6 M8,0.4 L6.9,5.6" vector-effect="non-scaling-stroke"/></g>
<path transform="translate(175.8,697.1) scale(0.86,1)" d="M0,10 V0 H3.1 Q5.2,0 5.2,2.6 Q5.2,5.3 3.1,5.3 H0" fill="none" stroke="#151515" stroke-width="1.45" stroke-linejoin="round" vector-effect="non-scaling-stroke"/>
<path transform="translate(184.4,697.1) scale(0.86,1)" d="M5.3,2.2 Q4.9,0 2.7,0 Q0,0 0,3.2 V6.8 Q0,10 2.7,10 Q4.9,10 5.3,7.8" fill="none" stroke="#151515" stroke-width="1.45" stroke-linejoin="round" vector-effect="non-scaling-stroke"/>
<path transform="translate(192.5,697.1) scale(0.86,1)" d="M0,0 V10 H3.1 Q5.4,10 5.4,7.4 Q5.4,4.9 3,4.9 H0 M0,0 H2.9 Q5,0 5,2.4 Q5,4.9 3,4.9" fill="none" stroke="#151515" stroke-width="1.45" stroke-linejoin="round" vector-effect="non-scaling-stroke"/>
<path transform="translate(204.5,697.1) scale(0.86,1)" d="M0,0 V10 H4.4" fill="none" stroke="#151515" stroke-width="1.45" stroke-linejoin="round" vector-effect="non-scaling-stroke"/>
<path transform="translate(210.5,697.1) scale(0.86,1)" d="M0,10 L2.8,0 L5.6,10 M1,6.8 H4.6" fill="none" stroke="#151515" stroke-width="1.45" stroke-linejoin="round" vector-effect="non-scaling-stroke"/>
<path transform="translate(218.0,697.1) scale(0.86,1)" d="M0,0 L2.8,5.2 L5.6,0 M2.8,5.2 V10" fill="none" stroke="#151515" stroke-width="1.45" stroke-linejoin="round" vector-effect="non-scaling-stroke"/>
<path transform="translate(226.1,697.1) scale(0.86,1)" d="M2.8,0 Q0,0 0,3.2 V6.8 Q0,10 2.8,10 Q5.6,10 5.6,6.8 V3.2 Q5.6,0 2.8,0 Z" fill="none" stroke="#151515" stroke-width="1.45" stroke-linejoin="round" vector-effect="non-scaling-stroke"/>
<path transform="translate(234.4,697.1) scale(0.86,1)" d="M0,0 V7 Q0,10 2.6,10 Q5.2,10 5.2,7 V0" fill="none" stroke="#151515" stroke-width="1.45" stroke-linejoin="round" vector-effect="non-scaling-stroke"/>
<path transform="translate(243.0,697.1) scale(0.86,1)" d="M0,0 H5.6 M2.8,0 V10" fill="none" stroke="#151515" stroke-width="1.45" stroke-linejoin="round" vector-effect="non-scaling-stroke"/>
</svg>
</body></html>
